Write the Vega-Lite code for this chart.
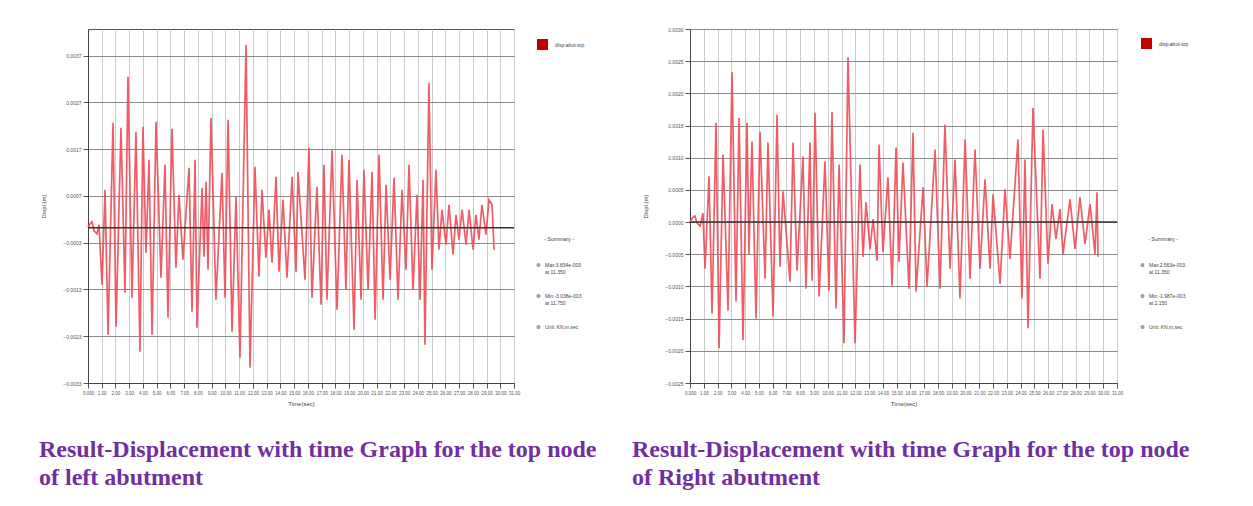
{
  "$schema": "https://vega.github.io/schema/vega-lite/v6.json",
  "background": "white",
  "padding": {"left": 38, "top": 26, "right": 5, "bottom": 5},
  "bounds": "flush",
  "spacing": 176,
  "config": {
    "font": "Liberation Sans",
    "view": {"stroke": "#555", "strokeWidth": 1},
    "axis": {
      "labelFontSize": 5,
      "labelColor": "#555",
      "tickColor": "#555",
      "domainColor": "#444",
      "titleFontSize": 6,
      "titleFontWeight": "normal",
      "titleColor": "#444",
      "tickSize": 5,
      "labelPadding": 2,
      "labelOverlap": false,
      "labelFlush": false,
      "tickCount": 60
    },
    "axisX": {"gridColor": "#cccccc", "gridWidth": 1, "titlePadding": 6},
    "axisY": {"gridColor": "#8c8c8c", "gridWidth": 1, "titlePadding": 16},
    "legend": {"labelFontSize": 5, "labelColor": "#444", "titleFontSize": 5.5, "titleFontWeight": "normal", "titleColor": "#444", "padding": 0}
  },
  "resolve": {"scale": {"color": "independent", "shape": "independent"}, "legend": {"color": "independent", "shape": "independent"}},
  "datasets": {
    "L": [
      {"t":0,"v":0},{"t":0.15,"v":0.000085},{"t":0.29,"v":0.000128},{"t":0.44,"v":-0.000064},{"t":0.65,"v":-0.000128},{"t":0.80,"v":0.000064},{"t":1.02,"v":-0.001218},{"t":1.24,"v":0.000812},{"t":1.46,"v":-0.002287},{"t":1.82,"v":0.002244},{"t":2.04,"v":-0.002116},{"t":2.40,"v":0.002137},{"t":2.69,"v":-0.001389},{"t":2.91,"v":0.003227},{"t":3.20,"v":-0.001496},{"t":3.49,"v":0.002052},{"t":3.78,"v":-0.00265},{"t":4.00,"v":0.002158},{"t":4.22,"v":-0.000534},{"t":4.44,"v":0.001453},{"t":4.66,"v":-0.002287},{"t":4.95,"v":0.002265},{"t":5.31,"v":-0.001069},{"t":5.60,"v":0.001346},{"t":5.82,"v":-0.001923},{"t":6.11,"v":0.002116},{"t":6.40,"v":-0.000855},{"t":6.62,"v":0.000705},{"t":6.91,"v":-0.000684},{"t":7.35,"v":0.001282},{"t":7.57,"v":-0.001795},{"t":7.79,"v":0.001453},{"t":7.93,"v":-0.002137},{"t":8.30,"v":0.000855},{"t":8.44,"v":-0.00062},{"t":8.59,"v":0.000983},{"t":8.73,"v":-0.000898},{"t":8.95,"v":0.002351},{"t":9.31,"v":-0.001539},{"t":9.75,"v":0.001175},{"t":9.97,"v":-0.001496},{"t":10.19,"v":0.002308},{"t":10.48,"v":-0.002222},{"t":10.77,"v":0.000662},{"t":11.06,"v":-0.002778},{"t":11.50,"v":0.003911},{"t":11.79,"v":-0.002992},{"t":12.15,"v":0.001304},{"t":12.44,"v":-0.001047},{"t":12.66,"v":0.000812},{"t":12.95,"v":-0.000641},{"t":13.17,"v":0.000385},{"t":13.39,"v":-0.000748},{"t":13.68,"v":0.00109},{"t":13.90,"v":-0.00094},{"t":14.19,"v":0.000598},{"t":14.48,"v":-0.001069},{"t":14.85,"v":0.00109},{"t":15.14,"v":-0.00094},{"t":15.28,"v":0.001197},{"t":15.79,"v":-0.001111},{"t":16.08,"v":0.00171},{"t":16.30,"v":-0.001496},{"t":16.66,"v":0.000876},{"t":16.96,"v":-0.001645},{"t":17.17,"v":0.001346},{"t":17.39,"v":-0.001539},{"t":17.76,"v":0.001667},{"t":18.12,"v":-0.001752},{"t":18.48,"v":0.00156},{"t":18.77,"v":-0.001325},{"t":18.99,"v":0.001453},{"t":19.36,"v":-0.00218},{"t":19.58,"v":0.001026},{"t":19.87,"v":-0.001539},{"t":20.08,"v":0.001239},{"t":20.38,"v":-0.001325},{"t":20.67,"v":0.001197},{"t":20.89,"v":-0.001966},{"t":21.18,"v":0.00156},{"t":21.47,"v":-0.001539},{"t":21.69,"v":0.000919},{"t":21.98,"v":-0.001111},{"t":22.27,"v":0.001069},{"t":22.56,"v":-0.001539},{"t":22.85,"v":0.000812},{"t":23.14,"v":-0.000898},{"t":23.36,"v":0.001346},{"t":23.65,"v":-0.001325},{"t":23.94,"v":0.000705},{"t":24.16,"v":-0.001539},{"t":24.38,"v":0.001026},{"t":24.52,"v":-0.0025},{"t":24.81,"v":0.003099},{"t":25.03,"v":-0.000898},{"t":25.32,"v":0.001239},{"t":25.54,"v":-0.00047},{"t":25.76,"v":0.000385},{"t":26.05,"v":-0.000363},{"t":26.27,"v":0.000492},{"t":26.56,"v":-0.000577},{"t":26.78,"v":0.000278},{"t":27.00,"v":-0.000256},{"t":27.22,"v":0.000385},{"t":27.51,"v":-0.000363},{"t":27.73,"v":0.000385},{"t":28.02,"v":-0.00047},{"t":28.23,"v":0.000278},{"t":28.45,"v":-0.000256},{"t":28.67,"v":0.000492},{"t":28.96,"v":-0.00015},{"t":29.18,"v":0.000598},{"t":29.40,"v":0.000492},{"t":29.55,"v":-0.00047}
    ],
    "R": [
      {"t":0,"v":0},{"t":0.22,"v":0.000077},{"t":0.36,"v":0.000093},{"t":0.51,"v":-0.000015},{"t":0.73,"v":-0.000062},{"t":0.94,"v":0.000139},{"t":1.09,"v":-0.000725},{"t":1.38,"v":0.00071},{"t":1.60,"v":-0.00142},{"t":1.89,"v":0.001543},{"t":2.11,"v":-0.00196},{"t":2.40,"v":0.001049},{"t":2.76,"v":-0.001373},{"t":3.05,"v":0.00233},{"t":3.34,"v":-0.001235},{"t":3.56,"v":0.00162},{"t":3.85,"v":-0.001836},{"t":4.14,"v":0.001543},{"t":4.28,"v":-0.000494},{"t":4.50,"v":0.00125},{"t":4.79,"v":-0.001497},{"t":5.08,"v":0.001404},{"t":5.45,"v":-0.00088},{"t":5.66,"v":0.001235},{"t":6.03,"v":-0.001466},{"t":6.32,"v":0.001667},{"t":6.53,"v":-0.000694},{"t":6.75,"v":0.000478},{"t":7.26,"v":-0.000926},{"t":7.48,"v":0.001235},{"t":7.77,"v":-0.000756},{"t":8.20,"v":0.001019},{"t":8.42,"v":-0.001034},{"t":8.71,"v":0.001235},{"t":8.86,"v":-0.00091},{"t":9.08,"v":0.001698},{"t":9.37,"v":-0.001157},{"t":9.80,"v":0.000941},{"t":10.09,"v":-0.001065},{"t":10.31,"v":0.001713},{"t":10.60,"v":-0.001343},{"t":10.82,"v":0.000895},{"t":11.18,"v":-0.001883},{"t":11.47,"v":0.002562},{"t":11.98,"v":-0.001883},{"t":12.34,"v":0.000895},{"t":12.56,"v":-0.00054},{"t":12.78,"v":0.000309},{"t":13.07,"v":-0.000417},{"t":13.29,"v":0.000046},{"t":13.58,"v":-0.000602},{"t":13.72,"v":0.001204},{"t":14.01,"v":-0.000463},{"t":14.37,"v":0.000694},{"t":14.67,"v":-0.000988},{"t":14.96,"v":0.001157},{"t":15.17,"v":-0.000617},{"t":15.46,"v":0.000926},{"t":15.90,"v":-0.001034},{"t":16.19,"v":0.001389},{"t":16.41,"v":-0.00108},{"t":16.92,"v":0.00054},{"t":17.21,"v":-0.001003},{"t":17.79,"v":0.001127},{"t":18.15,"v":-0.001034},{"t":18.51,"v":0.001512},{"t":18.88,"v":-0.000725},{"t":19.24,"v":0.000972},{"t":19.60,"v":-0.001188},{"t":19.97,"v":0.001281},{"t":20.33,"v":-0.00088},{"t":20.69,"v":0.001127},{"t":21.05,"v":-0.000725},{"t":21.42,"v":0.000664},{"t":21.78,"v":-0.000725},{"t":22.00,"v":0.000432},{"t":22.51,"v":-0.000957},{"t":22.87,"v":0.000509},{"t":23.23,"v":-0.000571},{"t":23.81,"v":0.001281},{"t":24.10,"v":-0.001188},{"t":24.32,"v":0.000972},{"t":24.54,"v":-0.001651},{"t":24.90,"v":0.001775},{"t":25.41,"v":-0.00088},{"t":25.63,"v":0.001435},{"t":25.99,"v":-0.000648},{"t":26.28,"v":0.000278},{"t":26.57,"v":-0.000262},{"t":26.86,"v":0.000201},{"t":27.08,"v":-0.000494},{"t":27.59,"v":0.000355},{"t":27.95,"v":-0.000417},{"t":28.31,"v":0.000386},{"t":28.68,"v":-0.00034},{"t":29.04,"v":0.000278},{"t":29.40,"v":-0.000494},{"t":29.55,"v":0.000463},{"t":29.62,"v":-0.00054}
    ],
    "LS": [
      {"item": "Max:3.834e-003|at 11.350", "t": 11.5, "v": 0.003911},
      {"item": "Min:-3.038e-003|at 11.750", "t": 11.79, "v": -0.002992},
      {"item": "Unit: KN,m,sec", "t": 0, "v": 0}
    ],
    "RS": [
      {"item": "Max:2.563e-003|at 11.350", "t": 11.47, "v": 0.002562},
      {"item": "Min:-1.987e-003|at 2.150", "t": 2.11, "v": -0.00196},
      {"item": "Unit: KN,m,sec", "t": 0, "v": 0}
    ],
    "Z": [{"v": 0, "s": "disp-abut-top"}]
  },
  "hconcat": [
    {
      "width": 426,
      "height": 354,
      "title": {"text": ["Result-Displacement with time Graph for the top node", "of left abutment"], "orient": "bottom", "anchor": "start", "frame": "group", "dx": -49, "offset": 31, "fontSize": 24, "font": "Liberation Serif", "fontWeight": "bold", "color": "#7030a0", "lineHeight": 28},
      "layer": [
        {
          "data": {"name": "L"},
          "mark": {"type": "line", "strokeWidth": 1.7, "color": "#ee4b57", "opacity": 0.9},
          "encoding": {
            "x": {"field": "t", "type": "quantitative", "scale": {"domain": [0, 31], "nice": false, "zero": false}, "axis": {"title": "Time(sec)", "tickCount": 60, "values": [0,1,2,3,4,5,6,7,8,9,10,11,12,13,14,15,16,17,18,19,20,21,22,23,24,25,26,27,28,29,30,31], "labelExpr": "datum.value == 0 ? '0.000' : format(datum.value, '.2f')", "labelFontSize": 4.5}},
            "y": {"field": "v", "type": "quantitative", "scale": {"domain": [-0.00332, 0.00425], "nice": false, "zero": false}, "axis": {"title": "Displ.(m)", "tickCount": 60, "values": [0.00368, 0.00268, 0.00168, 0.00068, -0.00032, -0.00132, -0.00232, -0.00332], "format": ".4f"}}
          }
        },
        {
          "data": {"name": "Z"},
          "mark": {"type": "rule", "color": "#333333", "strokeWidth": 1.5},
          "encoding": {"y": {"field": "v", "type": "quantitative"}}
        },
        {
          "data": {"name": "Z"},
          "mark": {"type": "square", "opacity": 0, "filled": true},
          "encoding": {
            "y": {"field": "v", "type": "quantitative"},
            "color": {"field": "s", "type": "nominal", "scale": {"range": ["#c00000"]}, "legend": {"title": null, "orient": "none", "legendX": 448, "legendY": 9, "symbolType": "square", "symbolSize": 120, "labelOffset": 6, "encode": {"symbols": {"update": {"opacity": {"value": 1}}}}}}
          }
        },
        {
          "data": {"name": "LS"},
          "mark": {"type": "point", "opacity": 0, "color": "#999999", "filled": false, "strokeWidth": 0.8},
          "encoding": {
            "x": {"field": "t", "type": "quantitative"},
            "y": {"field": "v", "type": "quantitative"},
            "shape": {"field": "item", "type": "nominal", "sort": null, "scale": {"range": ["circle", "circle", "circle"]}, "legend": {"title": "- Summary -", "titleAnchor": "middle", "titlePadding": 20, "orient": "none", "legendX": 448, "legendY": 208, "symbolSize": 6, "rowPadding": 16, "labelExpr": "split(datum.label, '|')", "encode": {"symbols": {"update": {"opacity": {"value": 1}}}}}}
          }
        }
      ]
    },
    {
      "width": 427,
      "height": 354,
      "title": {"text": ["Result-Displacement with time Graph for the top node", "of Right abutment"], "orient": "bottom", "anchor": "start", "frame": "group", "dx": -58, "offset": 31, "fontSize": 24, "font": "Liberation Serif", "fontWeight": "bold", "color": "#7030a0", "lineHeight": 28},
      "layer": [
        {
          "data": {"name": "R"},
          "mark": {"type": "line", "strokeWidth": 1.7, "color": "#ee4b57", "opacity": 0.9},
          "encoding": {
            "x": {"field": "t", "type": "quantitative", "scale": {"domain": [0, 31], "nice": false, "zero": false}, "axis": {"title": "Time(sec)", "tickCount": 60, "values": [0,1,2,3,4,5,6,7,8,9,10,11,12,13,14,15,16,17,18,19,20,21,22,23,24,25,26,27,28,29,30,31], "labelExpr": "datum.value == 0 ? '0.000' : format(datum.value, '.2f')", "labelFontSize": 4.5}},
            "y": {"field": "v", "type": "quantitative", "scale": {"domain": [-0.0025, 0.003], "nice": false, "zero": false}, "axis": {"title": "Displ.(m)", "tickCount": 60, "values": [0.003, 0.0025, 0.002, 0.0015, 0.001, 0.0005, 0, -0.0005, -0.001, -0.0015, -0.002, -0.0025], "format": ".4f"}}
          }
        },
        {
          "data": {"name": "Z"},
          "mark": {"type": "rule", "color": "#333333", "strokeWidth": 1.5},
          "encoding": {"y": {"field": "v", "type": "quantitative"}}
        },
        {
          "data": {"name": "Z"},
          "mark": {"type": "square", "opacity": 0, "filled": true},
          "encoding": {
            "y": {"field": "v", "type": "quantitative"},
            "color": {"field": "s", "type": "nominal", "scale": {"range": ["#c00000"]}, "legend": {"title": null, "orient": "none", "legendX": 450, "legendY": 8, "symbolType": "square", "symbolSize": 120, "labelOffset": 6, "encode": {"symbols": {"update": {"opacity": {"value": 1}}}}}}
          }
        },
        {
          "data": {"name": "RS"},
          "mark": {"type": "point", "opacity": 0, "color": "#999999", "filled": false, "strokeWidth": 0.8},
          "encoding": {
            "x": {"field": "t", "type": "quantitative"},
            "y": {"field": "v", "type": "quantitative"},
            "shape": {"field": "item", "type": "nominal", "sort": null, "scale": {"range": ["circle", "circle", "circle"]}, "legend": {"title": "- Summary -", "titleAnchor": "middle", "titlePadding": 20, "orient": "none", "legendX": 450, "legendY": 208, "symbolSize": 6, "rowPadding": 16, "labelExpr": "split(datum.label, '|')", "encode": {"symbols": {"update": {"opacity": {"value": 1}}}}}}
          }
        }
      ]
    }
  ]
}
